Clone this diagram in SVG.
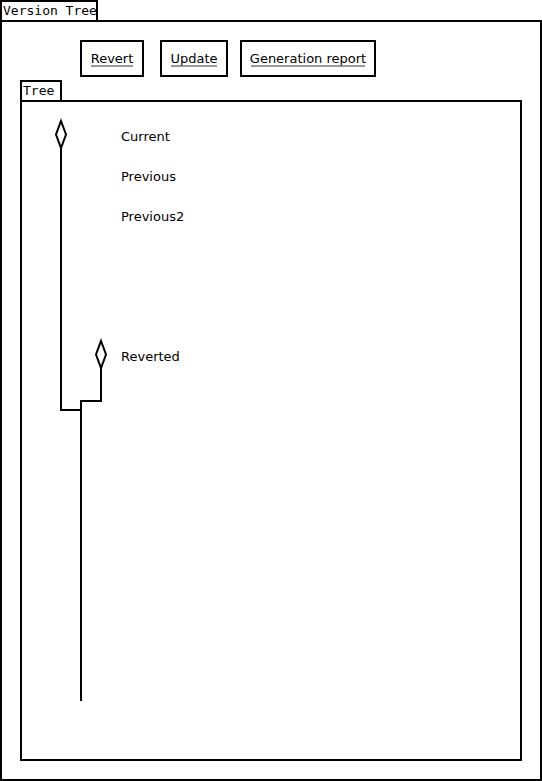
<svg xmlns="http://www.w3.org/2000/svg" width="542" height="781" viewBox="0 0 542 781">
<style>
.frame{fill:#fff;stroke:#000;stroke-width:2}
.tab{font-family:"DejaVu Sans Mono",monospace;font-size:13px;fill:#000}
.btn{fill:#fff;stroke:#000;stroke-width:2}
.btxt{font-family:"DejaVu Sans",sans-serif;font-size:13px;fill:#000;text-anchor:middle}
.ul{stroke:#777;stroke-width:1.5}
.lbl{font-family:"DejaVu Sans",sans-serif;font-size:13px;fill:#000}
.edge{fill:none;stroke:#000;stroke-width:2}
.dia{fill:#fff;stroke:#000;stroke-width:2}
</style>
<defs><clipPath id="c1"><rect x="1" y="1" width="96" height="19"/></clipPath></defs>
<g id="version-tree">
<rect class="frame" x="1" y="1" width="96" height="20"/>
<text class="tab" x="3" y="15" clip-path="url(#c1)">Version Tree</text>
<rect class="frame" x="1" y="21" width="540" height="759"/>
</g>
<g id="btn-revert">
<rect class="btn" x="81" y="41" width="62" height="35"/>
<text class="btxt" x="112" y="63">Revert</text>
<line class="ul" x1="91" y1="66" x2="133" y2="66"/>
</g>
<g id="btn-update">
<rect class="btn" x="161" y="41" width="66" height="35"/>
<text class="btxt" x="194" y="63">Update</text>
<line class="ul" x1="171" y1="66" x2="217" y2="66"/>
</g>
<g id="btn-report">
<rect class="btn" x="241" y="41" width="134" height="35"/>
<text class="btxt" x="308" y="63">Generation report</text>
<line class="ul" x1="251" y1="66" x2="365" y2="66"/>
</g>
<g id="tree">
<rect class="frame" x="21" y="81" width="40" height="20"/>
<text class="tab" x="23" y="95">Tree</text>
<rect class="frame" x="21" y="101" width="500" height="659"/>
</g>
<g id="connectors">
<polyline class="edge" points="61,146 61,410 81,410"/>
<polyline class="edge" points="101,366 101,401 81,401 81,701"/>
</g>
<g id="node-current">
<polygon class="dia" points="61,121 66,134.5 61,148 56,134.5"/>
<text class="lbl" x="121" y="141">Current</text>
</g>
<g id="node-previous">
<text class="lbl" x="121" y="181">Previous</text>
</g>
<g id="node-previous2">
<text class="lbl" x="121" y="221">Previous2</text>
</g>
<g id="node-reverted">
<polygon class="dia" points="101,341 106,354.5 101,368 96,354.5"/>
<text class="lbl" x="121" y="361">Reverted</text>
</g>
</svg>
